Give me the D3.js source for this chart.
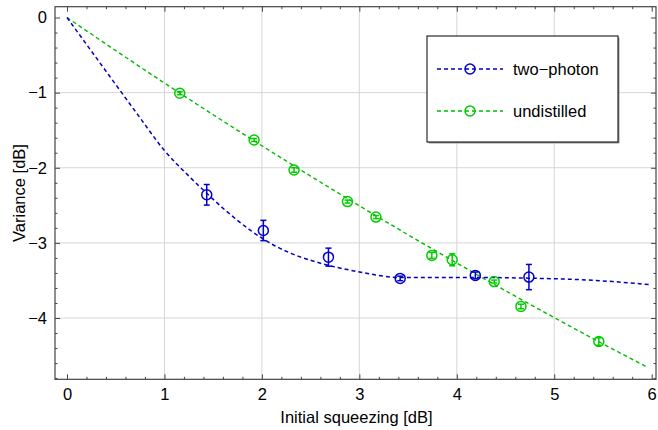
<!DOCTYPE html>
<html>
<head>
<meta charset="utf-8">
<script src="https://cdn.jsdelivr.net/npm/d3@7"></script>
<style>
  html, body { margin: 0; padding: 0; background: #fff; }
  svg { display: block; font-family: "Liberation Sans", Arial, Helvetica, sans-serif; }
</style>
</head>
<body>
<svg id="chart" width="658" height="430"></svg>
<script>
// ---- data ----
const seriesNames = ["two\u2212photon", "undistilled"];

// measured points: two-photon distillation
const twoPhotonX   = [1.434, 2.015, 2.683, 3.419, 4.19, 4.74];
const twoPhotonY   = [-2.36, -2.835, -3.19, -3.473, -3.433, -3.455];
const twoPhotonErr = [0.137, 0.135, 0.12, 0.03, 0.045, 0.168];

// measured points: undistilled
const undistX   = [1.157, 1.92, 2.33, 2.878, 3.17, 3.744, 3.953, 4.384, 4.658, 5.457];
const undistY   = [-1.008, -1.63, -2.03, -2.45, -2.657, -3.167, -3.225, -3.515, -3.846, -4.313];
const undistErr = [0.02, 0.02, 0.03, 0.02, 0.02, 0.04, 0.08, 0.02, 0.03, 0.05];

// theory curves
const twoPhotonCurveX = [0, 0.35, 0.716, 1.0, 1.25, 1.434, 1.62, 1.88, 2.015, 2.3, 2.6, 2.974, 3.42, 4.24, 4.74, 5.267, 5.6, 5.985];
const twoPhotonCurveY = [0, -0.625, -1.275, -1.77, -2.11, -2.34, -2.56, -2.83, -2.95, -3.14, -3.27, -3.38, -3.46, -3.46, -3.47, -3.49, -3.515, -3.557];

const undistCurveX = [0, 0.5, 1, 1.5, 2, 2.5, 3, 3.5, 4, 4.5, 5, 5.5, 5.95];
const undistCurveY = [0, -0.44, -0.872, -1.294, -1.707, -2.111, -2.506, -2.892, -3.269, -3.637, -3.995, -4.345, -4.652];

const xMajorTicks = [0, 1, 2, 3, 4, 5, 6];
const yMajorTicks = [0, -1, -2, -3, -4];
const xGrid = [1, 2, 3, 4, 5];
const yGrid = [-1, -2, -3, -4];
const xLabel = "Initial squeezing [dB]";
const yLabel = "Variance [dB]";

// ---- layout ----
const svg = d3.select("#chart");
const L = 55, T = 6.7, R = 656, B = 379.3;
const x = d3.scaleLinear().domain([-0.123, 6.044]).range([L, R]);
const y = d3.scaleLinear().domain([-4.816, 0.144]).range([B, T]);

const blueLine = "#0000c0", blueMark = "#0000cc";
const greenLine = "#00bb00", greenMark = "#00cc00";
const FS = "16.5px";

const xMinor = d3.range(0, 31).map(i => i * 0.2).filter(v => v <= 6.04 && !xMajorTicks.some(m => Math.abs(m - v) < 1e-6));
const yMinor = d3.range(0, 25).map(i => -i * 0.2).filter(v => v >= -4.81 && !yMajorTicks.some(m => Math.abs(m - v) < 1e-6));

// grid
const g = svg.append("g");
g.selectAll("line.gx").data(xGrid).join("line")
  .attr("x1", d => x(d)).attr("x2", d => x(d)).attr("y1", T).attr("y2", B)
  .attr("stroke", "#d6d6d6").attr("stroke-width", 1);
g.selectAll("line.gy").data(yGrid).join("line")
  .attr("y1", d => y(d)).attr("y2", d => y(d)).attr("x1", L).attr("x2", R)
  .attr("stroke", "#d6d6d6").attr("stroke-width", 1);

// axes
function styleAxis(sel) {
  sel.select(".domain").remove();
  sel.selectAll(".tick line").attr("stroke", "#444");
  sel.selectAll(".tick text").attr("fill", "#000").style("font-size", FS)
     .style("font-family", "'Liberation Sans', Arial, sans-serif");
}
const fmt = d => d < 0 ? "\u2212" + Math.abs(d) : String(d);

// bottom
svg.append("g").attr("transform", `translate(0,${B})`)
  .call(d3.axisBottom(x).tickValues(xMajorTicks).tickSize(-5).tickPadding(9).tickFormat(fmt))
  .call(styleAxis);
svg.append("g").attr("transform", `translate(0,${B})`)
  .call(d3.axisBottom(x).tickValues(xMinor).tickSize(-2.5).tickFormat(""))
  .call(styleAxis);
// top
svg.append("g").attr("transform", `translate(0,${T})`)
  .call(d3.axisTop(x).tickValues(xMajorTicks).tickSize(-5).tickFormat(""))
  .call(styleAxis);
svg.append("g").attr("transform", `translate(0,${T})`)
  .call(d3.axisTop(x).tickValues(xMinor).tickSize(-2.5).tickFormat(""))
  .call(styleAxis);
// left
svg.append("g").attr("transform", `translate(${L},0)`)
  .call(d3.axisLeft(y).tickValues(yMajorTicks).tickSize(-5).tickPadding(8).tickFormat(fmt))
  .call(styleAxis);
svg.append("g").attr("transform", `translate(${L},0)`)
  .call(d3.axisLeft(y).tickValues(yMinor).tickSize(-2.5).tickFormat(""))
  .call(styleAxis);
// right
svg.append("g").attr("transform", `translate(${R},0)`)
  .call(d3.axisRight(y).tickValues(yMajorTicks).tickSize(-5).tickFormat(""))
  .call(styleAxis);
svg.append("g").attr("transform", `translate(${R},0)`)
  .call(d3.axisRight(y).tickValues(yMinor).tickSize(-2.5).tickFormat(""))
  .call(styleAxis);

// frame
svg.append("rect").attr("x", L).attr("y", T).attr("width", R - L).attr("height", B - T)
  .attr("fill", "none").attr("stroke", "#444").attr("stroke-width", 1.2);

// curves
const line = d3.line().x(d => x(d[0])).y(d => y(d[1])).curve(d3.curveMonotoneX);
const plot = svg.append("g");
plot.append("path").datum(undistCurveX.map((v, i) => [v, undistCurveY[i]]))
  .attr("d", line).attr("fill", "none").attr("stroke", greenLine)
  .attr("stroke-width", 1.4).attr("stroke-dasharray", "4,3");
plot.append("path").datum(twoPhotonCurveX.map((v, i) => [v, twoPhotonCurveY[i]]))
  .attr("d", line).attr("fill", "none").attr("stroke", blueLine)
  .attr("stroke-width", 1.5).attr("stroke-dasharray", "4,3");

// points with error bars
function drawPoints(xs, ys, es, color) {
  const data = xs.map((v, i) => ({ x: v, y: ys[i], e: es[i] }));
  const gp = plot.append("g").attr("stroke", color).attr("fill", "none").attr("stroke-width", 1.5);
  gp.selectAll("line.eb").data(data).join("line")
    .attr("x1", d => x(d.x)).attr("x2", d => x(d.x))
    .attr("y1", d => y(d.y + d.e)).attr("y2", d => y(d.y - d.e));
  gp.selectAll("line.cap1").data(data).join("line")
    .attr("x1", d => x(d.x) - 3).attr("x2", d => x(d.x) + 3)
    .attr("y1", d => y(d.y + d.e)).attr("y2", d => y(d.y + d.e));
  gp.selectAll("line.cap2").data(data).join("line")
    .attr("x1", d => x(d.x) - 3).attr("x2", d => x(d.x) + 3)
    .attr("y1", d => y(d.y - d.e)).attr("y2", d => y(d.y - d.e));
  gp.selectAll("circle").data(data).join("circle")
    .attr("cx", d => x(d.x)).attr("cy", d => y(d.y)).attr("r", 5);
}
drawPoints(undistX, undistY, undistErr, greenMark);
drawPoints(twoPhotonX, twoPhotonY, twoPhotonErr, blueMark);

// legend
const lg = svg.append("g");
lg.append("rect").attr("x", 428.5).attr("y", 37.5).attr("width", 191).attr("height", 106)
  .attr("fill", "#999");
lg.append("rect").attr("x", 427).attr("y", 36).attr("width", 191).attr("height", 106)
  .attr("fill", "#fff").attr("stroke", "#000").attr("stroke-width", 1);
const legendColors = [[blueLine, blueMark], [greenLine, greenMark]];
const rowY = [69, 111];
seriesNames.forEach((name, i) => {
  const [lc, mc] = legendColors[i];
  lg.append("line").attr("x1", 437).attr("x2", 503).attr("y1", rowY[i]).attr("y2", rowY[i])
    .attr("stroke", lc).attr("stroke-width", 1.5).attr("stroke-dasharray", "4,3");
  lg.append("circle").attr("cx", 470).attr("cy", rowY[i]).attr("r", 5)
    .attr("fill", "none").attr("stroke", mc).attr("stroke-width", 1.5);
  lg.append("text").attr("x", 513).attr("y", rowY[i] + 5.5).text(name)
    .style("font-size", FS).attr("fill", "#000");
});

// axis labels
svg.append("text").attr("x", (L + R) / 2 + 1).attr("y", 423).attr("text-anchor", "middle")
  .style("font-size", FS).text(xLabel);
svg.append("text").attr("transform", `translate(25,${(T + B) / 2}) rotate(-90)`)
  .attr("text-anchor", "middle").style("font-size", FS).text(yLabel);
</script>
</body>
</html>
